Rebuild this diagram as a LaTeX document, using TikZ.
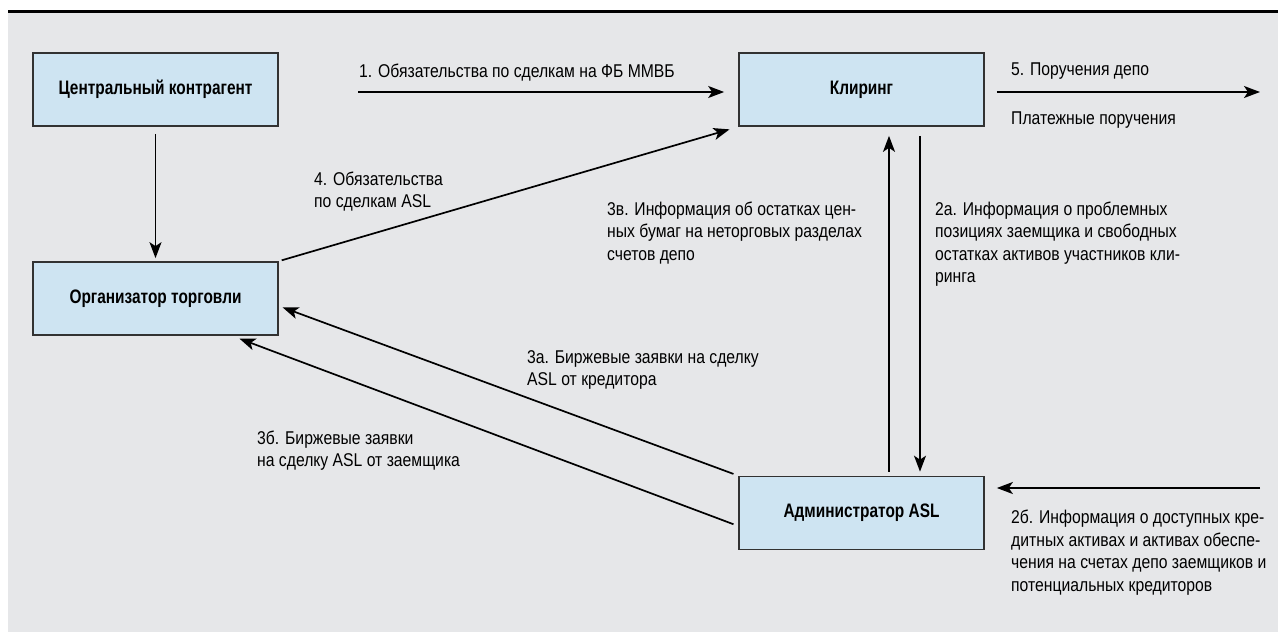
\documentclass[tikz,border=0pt]{standalone}
\usepackage{fontspec}
\setmainfont[FakeStretch=0.85]{Liberation Sans}
\newfontfamily\boxfont[FakeStretch=0.79]{Liberation Sans}
\usetikzlibrary{arrows.meta}
\definecolor{bggray}{RGB}{230,231,233}
\definecolor{boxblue}{RGB}{206,228,242}
\definecolor{boxline}{RGB}{50,50,50}
\tikzset{
  box/.style={draw=boxline, line width=1.7pt, fill=boxblue, minimum width=245pt, minimum height=73pt, inner sep=0pt, font=\boxfont\fontsize{19.5}{22}\selectfont\bfseries},
  arr/.style={line width=1.7pt, -{Stealth[length=16pt,width=12pt,inset=4pt]}},
  lbl/.style={anchor=base west, inner sep=0pt, align=left, font=\fontsize{18.5}{22.5}\selectfont}
}
\begin{document}
\begin{tikzpicture}[x=1pt,y=-1pt]
\useasboundingbox (0,0) rectangle (1278,632);
\fill[bggray] (8,13) rectangle (1278,632);
\fill[black] (8,9.5) rectangle (1278,13);
% boxes
\node[box] (ck)  at (155.5,89.5) {Центральный контрагент};
\node[box] (org) at (155.5,298.5) {Организатор торговли};
\node[box] (kl)  at (861.5,89.5) {Клиринг};
\node[box] (adm) at (861.5,513) {Администратор ASL};
% free ends
\coordinate (c1) at (358,92);
\coordinate (c5) at (1260,92);
\coordinate (c2) at (1260,488);
% connectors
\draw[arr, shorten <=7pt, shorten >=3pt] (ck.south) -- (org.north);
\draw[arr, shorten >=14pt] (c1) -- (c1 -| kl.west);
\draw[arr, shorten <=12pt] (c5 -| kl.east) -- (c5);
\draw[arr, shorten <=3pt, shorten >=9pt] (org.north east) -- (kl.south west);
\draw[arr, shorten <=4pt, shorten >=9pt] ([xshift=27.5pt]adm.north) -- ([xshift=27.5pt]kl.south);
\draw[arr, shorten <=9pt, shorten >=4pt] ([xshift=58.5pt]kl.south) -- ([xshift=58.5pt]adm.north);
\draw[arr, shorten >=12pt] (c2) -- (c2 -| adm.east);
\draw[arr, shorten <=5pt, shorten >=4pt] (adm.north west) -- ([yshift=-7.5pt]org.east);
\draw[arr, shorten <=5pt, shorten >=8pt] ([yshift=-13pt]adm.west) -- ([xshift=76.5pt]org.south);
% labels (anchor = baseline of last line)
\node[lbl] (l1) at (359,77) {1. Обязательства по сделкам на ФБ ММВБ};
\node[lbl] (l5) at (1011,75) {5. Поручения депо};
\node[lbl] (lp) at (1011,124) {Платежные поручения};
\node[lbl] (l4) at (314,207.5) {4. Обязательства\\по сделкам ASL};
\node[lbl] (l3v) at (607,260) {3в. Информация об остатках цен-\\ных бумаг на неторговых разделах\\счетов депо};
\node[lbl] (l2a) at (935,282.5) {2а. Информация о проблемных\\позициях заемщика и свободных\\остатках активов участников кли-\\ринга};
\node[lbl] (l3a) at (527,385.5) {3а. Биржевые заявки на сделку\\ASL от кредитора};
\node[lbl] (l3b) at (257,466.5) {3б. Биржевые заявки\\на сделку ASL от заемщика};
\node[lbl] (l2b) at (1011,591) {2б. Информация о доступных кре-\\дитных активах и активах обеспе-\\чения на счетах депо заемщиков и\\потенциальных кредиторов};
\end{tikzpicture}
\end{document}
